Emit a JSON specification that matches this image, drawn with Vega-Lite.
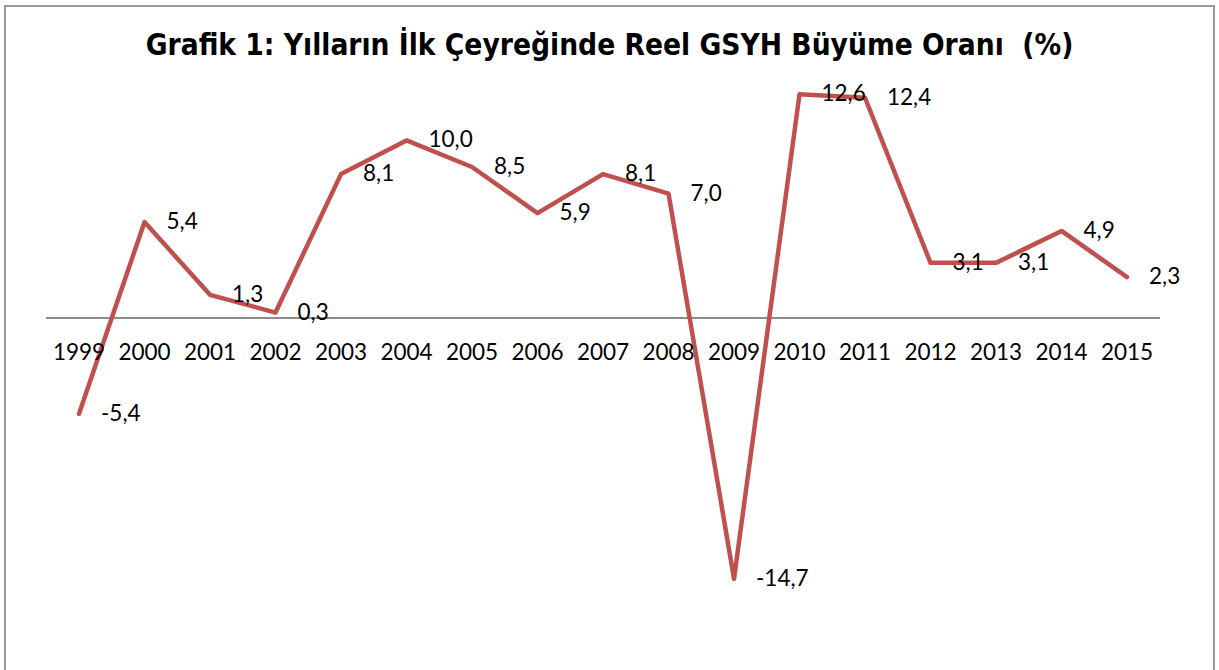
{
  "$schema": "https://vega.github.io/schema/vega-lite/v6.json",
  "autosize": {"type": "none"},
  "width": 1209,
  "height": 700,
  "padding": {"left": 5, "top": 6, "right": 5, "bottom": 0},
  "background": "white",
  "title": {
    "text": "Grafik 1: Yılların İlk Çeyreğinde Reel GSYH Büyüme Oranı\u00a0 (%)",
    "anchor": "middle",
    "frame": "group",
    "offset": -70,
    "baseline": "middle",
    "font": "DejaVu Sans Condensed, DejaVu Sans",
    "fontSize": 29.6,
    "fontWeight": "bold",
    "color": "#000000"
  },
  "config": {
    "view": {"stroke": "#999999", "strokeWidth": 2},
    "locale": {"number": {"decimal": ",", "thousands": ".", "grouping": [3], "currency": ["", ""], "minus": "-"}}
  },
  "data": {
    "values": [
      {"year": 1999, "value": -5.4},
      {"year": 2000, "value": 5.4},
      {"year": 2001, "value": 1.3},
      {"year": 2002, "value": 0.3},
      {"year": 2003, "value": 8.1},
      {"year": 2004, "value": 10.0},
      {"year": 2005, "value": 8.5},
      {"year": 2006, "value": 5.9},
      {"year": 2007, "value": 8.1},
      {"year": 2008, "value": 7.0},
      {"year": 2009, "value": -14.7},
      {"year": 2010, "value": 12.6},
      {"year": 2011, "value": 12.4},
      {"year": 2012, "value": 3.1},
      {"year": 2013, "value": 3.1},
      {"year": 2014, "value": 4.9},
      {"year": 2015, "value": 2.3}
    ]
  },
  "layer": [
    {
      "mark": {"type": "rule", "color": "#8c8c8c", "strokeWidth": 2},
      "encoding": {
        "x": {"datum": 1998.5, "type": "quantitative", "scale": {"domain": [1997.87, 2016.328], "nice": false, "zero": false}, "axis": null},
        "x2": {"datum": 2015.5},
        "y": {"datum": 0, "type": "quantitative", "scale": {"domain": [-21.864, 17.571], "nice": false, "zero": false}, "axis": null}
      }
    },
    {
      "mark": {"type": "line", "color": "#C0504D", "strokeWidth": 4.5, "strokeJoin": "round", "strokeCap": "round"},
      "encoding": {
        "x": {"field": "year", "type": "quantitative"},
        "y": {"field": "value", "type": "quantitative"}
      }
    },
    {
      "mark": {"type": "text", "font": "Lato", "fontSize": 22.5, "color": "#000000", "align": "center", "baseline": "middle", "dy": 35},
      "encoding": {
        "x": {"field": "year", "type": "quantitative"},
        "y": {"datum": 0, "type": "quantitative"},
        "text": {"field": "year", "type": "quantitative", "format": "d"}
      }
    },
    {
      "mark": {"type": "text", "font": "Lato", "fontSize": 22.5, "color": "#000000", "align": "left", "baseline": "middle", "dx": 22},
      "encoding": {
        "x": {"field": "year", "type": "quantitative"},
        "y": {"field": "value", "type": "quantitative"},
        "text": {"field": "value", "type": "quantitative", "format": ".1f"}
      }
    }
  ]
}
